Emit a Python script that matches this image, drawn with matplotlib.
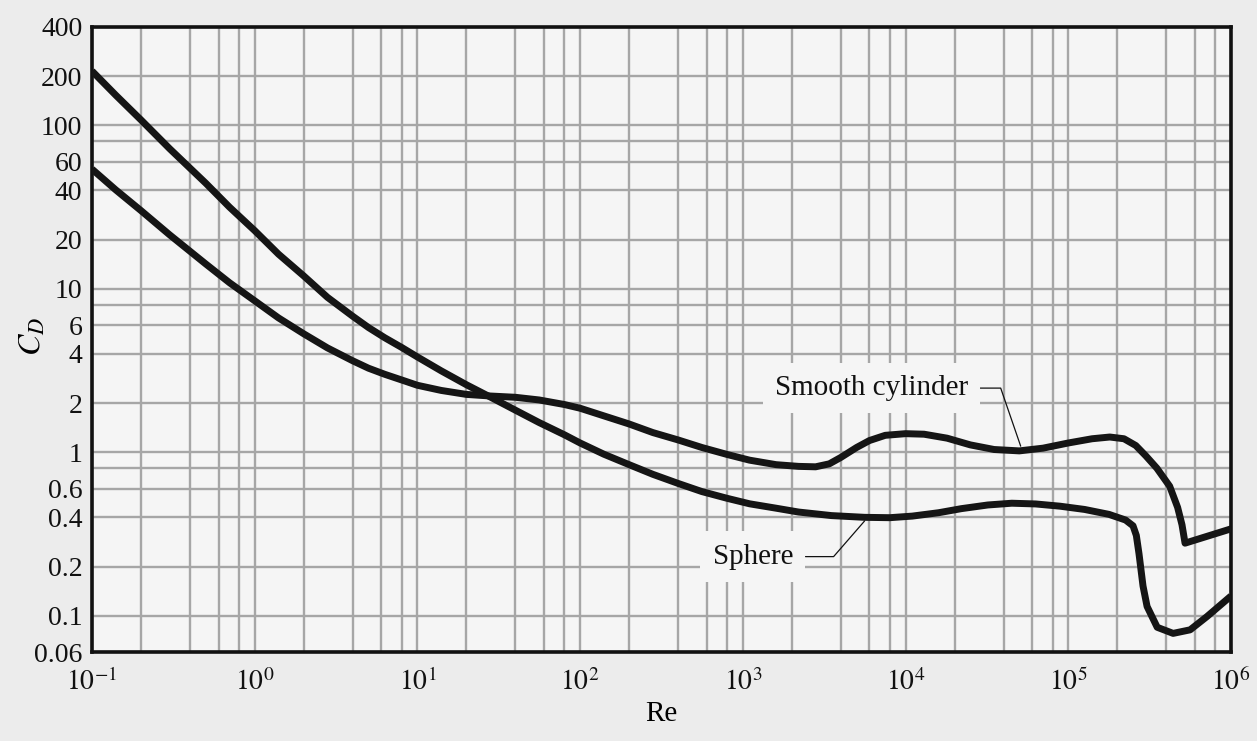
import matplotlib
matplotlib.use("Agg")
import matplotlib.pyplot as plt
from matplotlib.ticker import FixedLocator, FixedFormatter, NullFormatter

# Кривые C_D(Re)
re_sphere = [0.1, 0.14, 0.2, 0.3, 0.5, 0.7, 1, 1.4, 2, 2.8, 4, 5, 6.3, 8, 10, 14, 20, 28,
             40, 56, 80, 100, 140, 200, 280, 400, 560, 800, 1100, 1600, 2200, 3500,
             5600, 8000, 11000, 16000, 22000, 32000, 45000, 63000, 89000, 126000,
             178000, 225000, 250000, 262000, 272000, 288000, 305000, 352000,
             441000, 561000, 713000, 1000000]
cd_sphere = [215, 153, 108, 72, 44.3, 31.6, 22.7, 16.3, 12.0, 8.87, 6.8, 5.8, 5.02, 4.38,
             3.83, 3.15, 2.59, 2.18, 1.81, 1.52, 1.28, 1.14, 0.973, 0.84, 0.733, 0.645,
             0.575, 0.523, 0.484, 0.455, 0.431, 0.41, 0.40, 0.398, 0.407, 0.427, 0.452,
             0.476, 0.488, 0.483, 0.468, 0.447, 0.417, 0.385, 0.355, 0.31, 0.24, 0.152,
             0.114, 0.085, 0.078, 0.082, 0.099, 0.132]

re_cyl = [0.1, 0.14, 0.2, 0.3, 0.5, 0.7, 1, 1.4, 2, 2.8, 4, 5, 6.3, 8, 10, 14, 20, 28,
          40, 56, 80, 100, 140, 200, 280, 400, 560, 800, 1100, 1600, 2200, 2800, 3400,
          4000, 5000, 6000, 7500, 10000, 13000, 18000, 25000, 35000, 50000, 70000,
          100000, 140000, 180000, 220000, 260000, 300000, 350000, 420000, 470000,
          500000, 522000, 1000000]
cd_cyl = [54, 40.3, 30.1, 21.4, 14.2, 10.9, 8.45, 6.64, 5.31, 4.35, 3.63, 3.27, 3.0, 2.77,
          2.57, 2.39, 2.26, 2.21, 2.17, 2.09, 1.96, 1.86, 1.67, 1.49, 1.32, 1.19, 1.07,
          0.97, 0.895, 0.84, 0.82, 0.815, 0.85, 0.93, 1.07, 1.18, 1.27, 1.30, 1.29, 1.22,
          1.11, 1.04, 1.02, 1.06, 1.14, 1.21, 1.24, 1.21, 1.10, 0.95, 0.80, 0.62, 0.46,
          0.36, 0.278, 0.34]

x_ticks = [1e-1, 1e0, 1e1, 1e2, 1e3, 1e4, 1e5, 1e6]
x_ticklabels = [r'$10^{-1}$', r'$10^{0}$', r'$10^{1}$', r'$10^{2}$',
                r'$10^{3}$', r'$10^{4}$', r'$10^{5}$', r'$10^{6}$']
x_minor = [m * 10.0 ** k for k in range(-1, 6) for m in (2, 4, 6, 8)]

y_ticks = [0.06, 0.1, 0.2, 0.4, 0.6, 1, 2, 4, 6, 10, 20, 40, 60, 100, 200, 400]
y_ticklabels = ['0.06', '0.1', '0.2', '0.4', '0.6', '1', '2', '4', '6',
                '10', '20', '40', '60', '100', '200', '400']
y_minor = [0.8, 8, 80]

plt.rcParams['font.family'] = ['Liberation Serif', 'DejaVu Serif']
plt.rcParams['mathtext.fontset'] = 'stix'

fig = plt.figure(figsize=(12.57, 7.41), dpi=100, facecolor='#ececec')
ax = fig.add_axes([0.0732, 0.1201, 0.9061, 0.8435])
ax.set_facecolor('#f5f5f5')

ax.set_xscale('log')
ax.set_yscale('log')
ax.set_xlim(0.1, 1e6)
ax.set_ylim(0.06, 400)

ax.xaxis.set_major_locator(FixedLocator(x_ticks))
ax.xaxis.set_major_formatter(FixedFormatter(x_ticklabels))
ax.xaxis.set_minor_locator(FixedLocator(x_minor))
ax.xaxis.set_minor_formatter(NullFormatter())
ax.yaxis.set_major_locator(FixedLocator(y_ticks))
ax.yaxis.set_major_formatter(FixedFormatter(y_ticklabels))
ax.yaxis.set_minor_locator(FixedLocator(y_minor))
ax.yaxis.set_minor_formatter(NullFormatter())

ax.tick_params(which='both', length=0, labelsize=20, colors='#111111')
ax.tick_params(axis='x', pad=12)
ax.tick_params(axis='y', pad=7)
ax.grid(True, which='both', color='#a6a6a6', linewidth=1.7)
ax.set_axisbelow(True)
for s in ax.spines.values():
    s.set_linewidth(2.6)
    s.set_color('#111111')

ax.plot(re_sphere, cd_sphere, color='#151515', linewidth=5,
        solid_joinstyle='round', solid_capstyle='butt', zorder=3)
ax.plot(re_cyl, cd_cyl, color='#151515', linewidth=5,
        solid_joinstyle='round', solid_capstyle='butt', zorder=3)

box = dict(boxstyle='square,pad=0.42', facecolor='#f5f5f5', edgecolor='none')
ax.annotate('Smooth cylinder', xy=(51000, 1.09), xytext=(24200, 2.47),
            ha='right', va='center', fontsize=21, color='#111111', bbox=box,
            arrowprops=dict(arrowstyle='-', color='#111111', linewidth=0.9,
                            shrinkA=0, shrinkB=0,
                            connectionstyle='angle,angleA=0,angleB=109,rad=0'),
            zorder=4)
ax.annotate('Sphere', xy=(5600, 0.38), xytext=(2040, 0.23),
            ha='right', va='center', fontsize=21, color='#111111', bbox=box,
            arrowprops=dict(arrowstyle='-', color='#111111', linewidth=0.9,
                            shrinkA=0, shrinkB=0,
                            connectionstyle='angle,angleA=0,angleB=49,rad=0'),
            zorder=4)

ax.set_xlabel('Re', fontsize=21)
ax.xaxis.set_label_coords(0.5, -0.078)
ax.set_ylabel(r'$C_D$', fontsize=23)
ax.yaxis.set_label_coords(-0.039, 0.505)

fig.savefig('out.png', dpi=100, facecolor=fig.get_facecolor())
